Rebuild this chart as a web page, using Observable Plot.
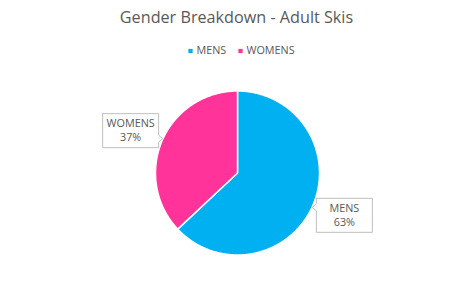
<!DOCTYPE html>
<html>
<head>
<meta charset="utf-8">
<script src="https://cdn.jsdelivr.net/npm/d3@7"></script>
<script src="https://cdn.jsdelivr.net/npm/@observablehq/plot@0.6"></script>
<style>
  html, body { margin: 0; padding: 0; background: #fff; }
</style>
</head>
<body>
<div id="chart"></div>
<script>
const title = "Gender Breakdown - Adult Skis";
const categories = ["MENS", "WOMENS"];
const values = [63, 37];
const colors = ["#00B0F0", "#FF3399"];

const total = d3.sum(values);
const pie = d3.pie().sort(null).value(d => d.value)(categories.map((c, i) => ({ c, value: values[i], color: colors[i] })));

// slice polygons (unit circle, angle clockwise from top)
const slicePts = [];
pie.forEach(p => {
  const n = Math.max(2, Math.ceil((p.endAngle - p.startAngle) / 0.01));
  slicePts.push({ c: p.data.c, x: 0, y: 0 });
  for (let k = 0; k <= n; k++) {
    const a = p.startAngle + (p.endAngle - p.startAngle) * k / n;
    slicePts.push({ c: p.data.c, x: Math.sin(a), y: Math.cos(a) });
  }
  slicePts.push({ c: p.data.c, x: 0, y: 0 });
});

const R = 82; // px per unit
const labels = pie.map(p => {
  const a = (p.startAngle + p.endAngle) / 2;
  return {
    c: p.data.c,
    name: p.data.c,
    pct: Math.round(p.data.value / total * 100) + "%",
    x: Math.sin(a) * 1.42,
    y: Math.cos(a) * 1.3,
    side: Math.sin(a) < 0 ? "right" : "left"
  };
});

// callout boxes with pointer
const boxPts = [];
labels.forEach(l => {
  const hw = 28 / R, hh = 17 / R, pw = 4 / R, ph = 3.5 / R;
  const py = (l.side === "right" ? -8 : 8) / R; // pointer offset (y-up)
  let pts;
  if (l.side === "right") {
    pts = [[-hw, hh], [hw, hh], [hw, py + ph], [hw + pw, py], [hw, py - ph], [hw, -hh], [-hw, -hh], [-hw, hh]];
  } else {
    pts = [[-hw, hh], [hw, hh], [hw, -hh], [-hw, -hh], [-hw, py - ph], [-hw - pw, py], [-hw, py + ph], [-hw, hh]];
  }
  pts.forEach(([dx, dy]) => boxPts.push({ c: l.c, x: l.x + dx, y: l.y + dy }));
});

const legendX = [190, 240];
const font = "'Open Sans', sans-serif";

const legendMarks = categories.flatMap((c, i) => [
  Plot.dot([c], { frameAnchor: "top-left", dx: legendX[i], dy: 50.5, symbol: "square", r: 2.4, fill: colors[i], stroke: null }),
  Plot.text([c], { frameAnchor: "top-left", dx: legendX[i] + 6, dy: 50.5, text: d => d, textAnchor: "start", lineAnchor: "middle", fontSize: 10.8, fill: "#595959" })
]);

const chart = Plot.plot({
  width: 472,
  height: 283,
  margin: 0,
  style: { fontFamily: font, background: "#fff" },
  x: { domain: [-1, 1], range: [237 - R, 237 + R], axis: null },
  y: { domain: [-1, 1], range: [172.5 + R, 172.5 - R], axis: null },
  marks: [
    Plot.line(slicePts, { x: "x", y: "y", z: "c", fill: d => colors[categories.indexOf(d.c)], stroke: "#fff", strokeWidth: 1.5, strokeLinejoin: "round", curve: "linear" }),
    Plot.line(boxPts, { x: "x", y: "y", z: "c", fill: "#fff", stroke: "#BFBFBF", strokeWidth: 1 }),
    Plot.text(labels, { x: "x", y: "y", text: "name", dy: -7, fill: "#595959", fontSize: 10.8 }),
    Plot.text(labels, { x: "x", y: "y", text: "pct", dy: 7, fill: "#595959", fontSize: 10.8 }),
    Plot.text([title], { frameAnchor: "top", lineAnchor: "middle", dy: 17.5, fontSize: 16.2, fill: "#595959" }),
    ...legendMarks
  ]
});

document.getElementById("chart").append(chart);
</script>
</body>
</html>
